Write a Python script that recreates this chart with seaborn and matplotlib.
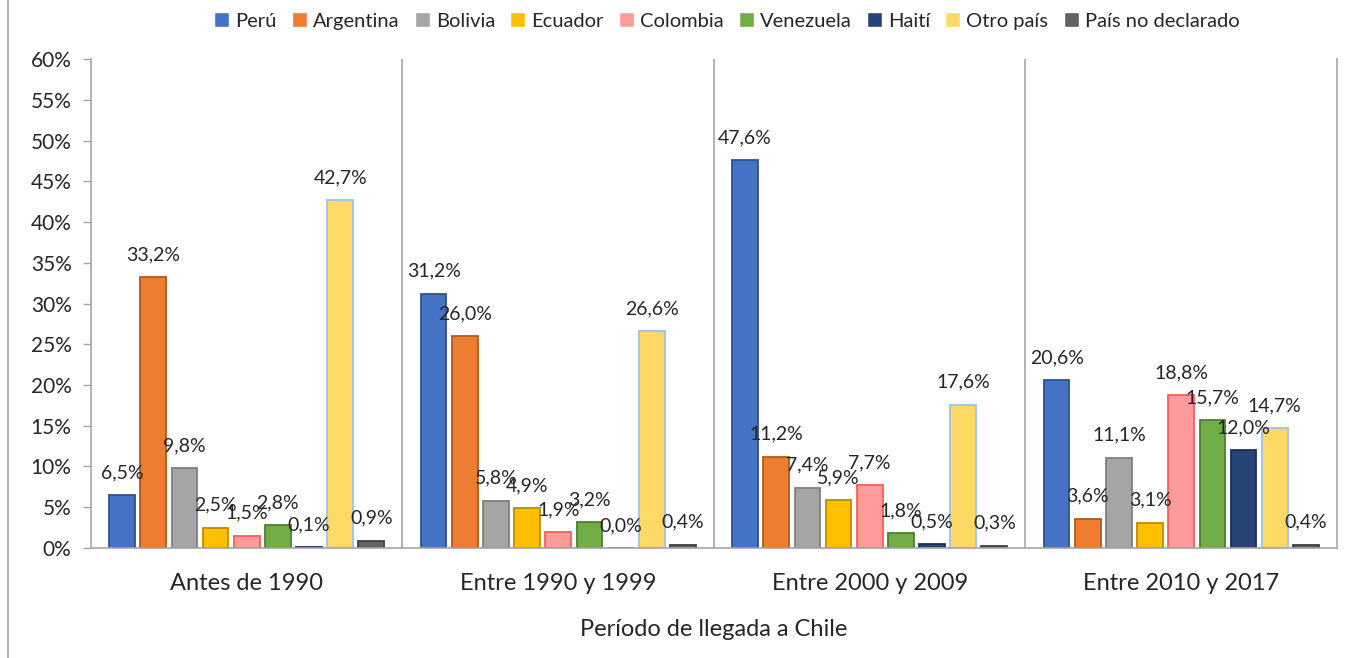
import matplotlib
matplotlib.use("Agg")
import matplotlib.pyplot as plt
import seaborn as sns
import pandas as pd
from matplotlib.lines import Line2D

periods = ["Antes de 1990", "Entre 1990 y 1999", "Entre 2000 y 2009", "Entre 2010 y 2017"]
countries = ["Perú", "Argentina", "Bolivia", "Ecuador", "Colombia", "Venezuela", "Haití", "Otro país", "País no declarado"]
peru = [6.5, 31.2, 47.6, 20.6]
argentina = [33.2, 26.0, 11.2, 3.6]
bolivia = [9.8, 5.8, 7.4, 11.1]
ecuador = [2.5, 4.9, 5.9, 3.1]
colombia = [1.5, 1.9, 7.7, 18.8]
venezuela = [2.8, 3.2, 1.8, 15.7]
haiti = [0.1, 0.0, 0.5, 12.0]
otro = [42.7, 26.6, 17.6, 14.7]
no_declarado = [0.9, 0.4, 0.3, 0.4]
series = [peru, argentina, bolivia, ecuador, colombia, venezuela, haiti, otro, no_declarado]
yticks = list(range(0, 61, 5))

fill_colors = ["#4472C4", "#ED7D31", "#A5A5A5", "#FFC000", "#FF9B9B", "#70AD47", "#264478", "#FFD966", "#636363"]
edge_colors = ["#2F528F", "#AE5A21", "#7F7F7F", "#BC8C00", "#FF5B5B", "#507E32", "#1A2F54", "#9DC3E6", "#404040"]

rows = []
for c, vals in zip(countries, series):
    for p, v in zip(periods, vals):
        rows.append({"period": p, "country": c, "value": v})
df = pd.DataFrame(rows)

sns.set_theme(style="white")
plt.rcParams["font.family"] = ["Lato", "DejaVu Sans"]

fig = plt.figure(figsize=(13.46, 6.58), dpi=100)
ax = fig.add_axes([0.0676, 0.1672, 0.9257, 0.7431])

sns.barplot(data=df, x="period", y="value", hue="country", order=periods,
            hue_order=countries, palette=fill_colors, width=0.9, gap=0.175,
            ax=ax, legend=True, errorbar=None, saturation=1)

for cont, ec, vals in zip(ax.containers, edge_colors, series):
    for patch in cont:
        patch.set_edgecolor(ec)
        patch.set_linewidth(1.3)
    ax.bar_label(cont, labels=[f"{v:.1f}%".replace(".", ",") for v in vals],
                 padding=10, fontsize=14, color="#262626")

ax.set_xlim(-0.5, 3.5)
ax.set_ylim(0, 60)
ax.set_yticks(yticks)
ax.set_yticklabels([f"{t}%" for t in yticks], fontsize=15, color="#262626")
ax.tick_params(axis="y", direction="out", length=6, width=1, color="#A6A6A6", pad=8, left=True)
ax.tick_params(axis="x", length=0, pad=18, labelsize=17, labelcolor="#262626")
for x in [0.5, 1.5, 2.5]:
    ax.axvline(x, color="#A6A6A6", lw=1.2)
for s in ["left", "bottom", "right"]:
    ax.spines[s].set_color("#A6A6A6")
    ax.spines[s].set_linewidth(1.2)
ax.spines["top"].set_visible(False)
ax.set_xlabel("Período de llegada a Chile", fontsize=17, color="#262626", labelpad=18)
ax.set_ylabel("")

handles, labels = ax.get_legend_handles_labels()
ax.legend(handles, labels, loc="center", bbox_to_anchor=(0.54, 0.968), bbox_transform=fig.transFigure,
          ncol=9, frameon=False, fontsize=14.5, handlelength=0.75, handleheight=0.75,
          handletextpad=0.3, columnspacing=0.75, borderaxespad=0)

fig.add_artist(Line2D([8/1346, 8/1346], [0, 1], transform=fig.transFigure, color="#A6A6A6", lw=1.2))

fig.savefig("out.png", dpi=100)
